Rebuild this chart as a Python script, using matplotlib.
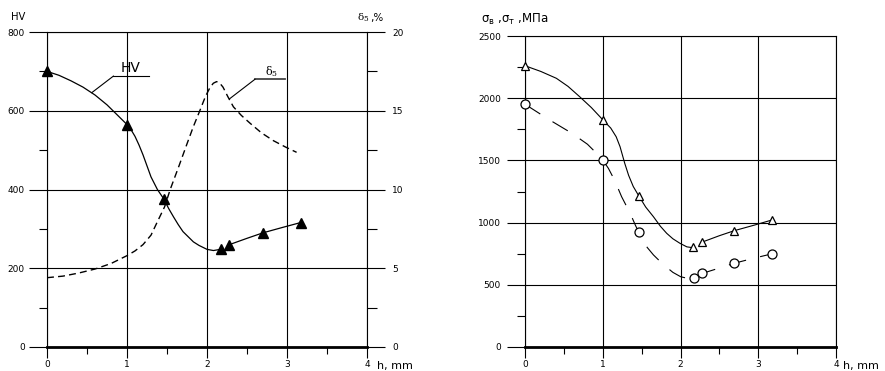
"""Hardness, elongation and strength vs. depth h — two-panel line chart."""
import matplotlib
matplotlib.use("Agg")
import matplotlib.pyplot as plt

W, H = 885, 371

# --- left panel: HV (left axis) and delta5 (right axis) ---
hv_x = [0, 1.0, 1.46, 2.17, 2.28, 2.70, 3.17]
hv_y = [700, 565, 376, 248, 260, 290, 316]
# smooth HV curve (two pieces)
hv_curve1_x = [0, 0.15, 0.3, 0.45, 0.6, 0.75, 0.9, 1.0, 1.05, 1.1, 1.15, 1.2, 1.25, 1.3,
               1.38, 1.46, 1.52, 1.58, 1.64, 1.70, 1.77, 1.83, 1.9, 2.0, 2.08, 2.17]
hv_curve1_y = [700, 690, 676, 660, 640, 615, 585, 565, 552, 535, 513, 488, 460, 432,
               400, 376, 352, 331, 311, 293, 279, 267, 258, 248, 245, 248]
hv_curve2_x = [2.28, 2.5, 2.70, 2.95, 3.17]
hv_curve2_y = [260, 276, 290, 304, 316]

d5_x = [0, 0.2, 0.4, 0.6, 0.8, 1.0, 1.1, 1.2, 1.3, 1.37, 1.47, 1.54, 1.65, 1.75, 1.83,
        1.91, 1.98, 2.04, 2.08, 2.12, 2.16, 2.2, 2.26, 2.33, 2.43, 2.54, 2.68, 2.83,
        2.98, 3.12]
d5_y = [4.4, 4.5, 4.7, 4.95, 5.3, 5.8, 6.1, 6.5, 7.1, 7.85, 8.9, 10.0, 11.5, 12.9, 14.0,
        15.0, 15.9, 16.5, 16.75, 16.85, 16.75, 16.5, 15.9, 15.25, 14.7, 14.2, 13.6, 13.1,
        12.7, 12.36]

# --- right panel: sigma_B (triangles) and sigma_T (circles), MPa ---
sb_x = [0, 1.0, 1.46, 2.16, 2.28, 2.69, 3.17]
sb_y = [2260, 1825, 1216, 800, 844, 935, 1020]
sb_curve1_x = [0, 0.2, 0.4, 0.55, 0.7, 0.85, 1.0, 1.1, 1.17, 1.22, 1.28, 1.33, 1.39,
               1.46, 1.55, 1.65, 1.74, 1.82, 1.9, 1.99, 2.08, 2.16]
sb_curve1_y = [2260, 2215, 2160, 2095, 2012, 1925, 1825, 1760, 1690, 1610, 1477, 1380,
               1290, 1216, 1125, 1047, 970, 914, 870, 834, 805, 798]
sb_curve2_x = [2.28, 2.5, 2.69, 2.95, 3.17]
sb_curve2_y = [844, 895, 935, 980, 1020]

st_x = [0, 1.0, 1.46, 2.17, 2.28, 2.69, 3.17]
st_y = [1950, 1500, 922, 557, 592, 673, 748]
st_curve_x = [0, 0.3, 0.6, 0.8, 0.94, 1.0, 1.07, 1.15, 1.24, 1.35, 1.42, 1.5, 1.57, 1.65,
              1.74, 1.82, 1.9, 2.0, 2.1, 2.17, 2.28, 2.5, 2.69, 2.93, 3.17]
st_curve_y = [1950, 1830, 1718, 1630, 1543, 1500, 1436, 1340, 1208, 1075, 975, 874, 800,
              740, 685, 641, 600, 565, 550, 552, 592, 635, 673, 712, 748]

x_ticks = [0, 1, 2, 3, 4]
x_minor = [0.5, 1.5, 2.5, 3.5]


def px(x, y):
    return x / W, 1 - y / H


def style_axes(ax, ymax, ymajor, yminor):
    ax.set_xlim(0, 4)
    ax.set_ylim(0, ymax)
    ax.set_xticks(x_ticks)
    ax.set_xticks(x_minor, minor=True)
    ax.set_yticks(ymajor)
    ax.set_yticks(yminor, minor=True)
    ax.grid(True, which="major", color="black", lw=0.8)
    for s in ax.spines.values():
        s.set_linewidth(0.8)
    ax.spines["bottom"].set_linewidth(2.0)
    ax.tick_params(axis="x", which="major", direction="out", length=8, width=0.8,
                   pad=1.5, labelsize=6.5)
    ax.tick_params(axis="x", which="minor", direction="out", length=5, width=0.8)
    ax.tick_params(axis="y", which="major", direction="out", length=13, width=0.8,
                   pad=3, labelsize=6.5)
    ax.tick_params(axis="y", which="minor", direction="out", length=6, width=0.8)


fig = plt.figure(figsize=(W / 100, H / 100), dpi=100)

# left panel
ax = fig.add_axes([47 / W, 24 / H, 320 / W, 315 / H])
style_axes(ax, 800, [0, 200, 400, 600, 800], [100, 300, 500, 700])
ax.plot(hv_curve1_x, hv_curve1_y, color="black", lw=0.9, zorder=3)
ax.plot(hv_curve2_x, hv_curve2_y, color="black", lw=0.9, zorder=3)
ax.plot(hv_x, hv_y, ls="none", marker="^", ms=6.5, color="black", zorder=4,
        clip_on=False)

ax2 = ax.twinx()
ax2.set_ylim(0, 20)
ax2.set_yticks([0, 5, 10, 15, 20])
ax2.set_yticks([2.5, 7.5, 12.5, 17.5], minor=True)
ax2.tick_params(axis="y", which="major", direction="out", length=13, width=0.8,
                pad=5, labelsize=6.5)
ax2.tick_params(axis="y", which="minor", direction="out", length=7, width=0.8)
for s in ax2.spines.values():
    s.set_visible(False)
ax2.plot(d5_x, d5_y, color="black", lw=1.0, dashes=(5, 3))

# leader annotations
ax.plot([0.83, 1.28], [688, 688], color="black", lw=0.8)
ax.plot([0.56, 0.83], [646, 688], color="black", lw=0.8)
ax.text(1.04, 708, "HV", fontsize=10, ha="center", va="center")
ax2.plot([2.6, 2.975], [17.0, 17.0], color="#444444", lw=1.3)
ax2.plot([2.28, 2.6], [15.75, 17.0], color="black", lw=0.8)
ax2.text(2.81, 17.5, r"$\mathregular{\delta_5}$", fontsize=8, ha="center", va="center",
         family="DejaVu Serif")

fig.text(*px(11, 17), "HV", fontsize=7.2, ha="left", va="center")
fig.text(*px(357, 18), r"$\mathregular{\delta_5}$", fontsize=7.5, ha="left", va="center",
         family="DejaVu Serif")
fig.text(*px(370, 18), ",%", fontsize=7.5, ha="left", va="center")
fig.text(*px(377, 369), "h, mm", fontsize=8, ha="left", va="baseline")

# right panel
ax3 = fig.add_axes([525.3 / W, 24 / H, 310.7 / W, 311 / H])
style_axes(ax3, 2500, [0, 500, 1000, 1500, 2000, 2500], [250, 750, 1250, 1750, 2250])
ax3.tick_params(axis="y", which="major", pad=4.5)
ax3.plot(sb_curve1_x, sb_curve1_y, color="black", lw=0.8, zorder=3)
ax3.plot(sb_curve2_x, sb_curve2_y, color="black", lw=0.8, zorder=3)
ax3.plot(st_curve_x, st_curve_y, color="black", lw=0.8, dashes=(16, 13), zorder=3)
ax3.plot(sb_x, sb_y, ls="none", marker="^", ms=6, mfc="white", mec="black",
         mew=0.9, zorder=4, clip_on=False)
ax3.plot(st_x, st_y, ls="none", marker="o", ms=6.5, mfc="white", mec="black",
         mew=0.9, zorder=4, clip_on=False)

fig.text(*px(481, 19), r"$\mathregular{\sigma_в}$ ,$\mathregular{\sigma_т}$ ,МПа",
         fontsize=8.5, ha="left", va="center")
fig.text(*px(843, 369), "h, mm", fontsize=8, ha="left", va="baseline")

fig.savefig("out.png", dpi=100)
